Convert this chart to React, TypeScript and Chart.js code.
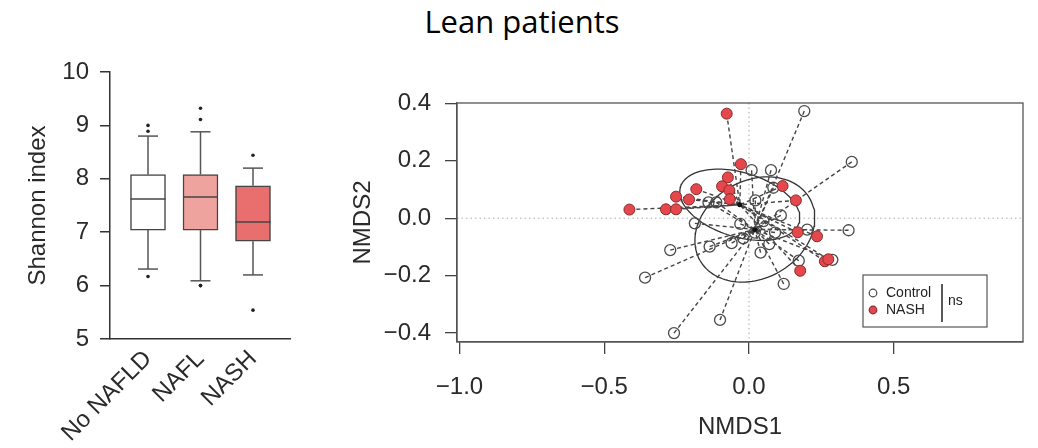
import React, { useEffect, useRef } from 'react';
import { Chart, registerables } from 'chart.js';

Chart.register(...registerables);

const TITLE = 'Lean patients';
const FONT = "'Liberation Sans', Arial, Helvetica, sans-serif";

// ---------- Box plot (Shannon index) ----------
const boxCategories = ['No NAFLD', 'NAFL', 'NASH'];
const boxWhiskerLow = [6.31, 6.09, 6.2];
const boxQ1 = [7.04, 7.04, 6.83];
const boxMedian = [7.62, 7.66, 7.19];
const boxQ3 = [8.08, 8.08, 7.87];
const boxWhiskerHigh = [8.8, 8.88, 8.2];
const boxOutliers = [
  [9.0, 8.89, 6.17],
  [9.32, 9.11, 6.0, 6.0],
  [8.44, 5.54],
];
const boxFill = ['#ffffff', '#eea39f', '#e96e6e'];
const shannonTicks = [5, 6, 7, 8, 9, 10];

// ---------- NMDS ordination ----------
const controlX = [0.191, 0.355, 0.009, 0.076, 0.084, 0.022, 0.201, 0.344, 0.288, 0.172, 0.12, -0.1, -0.06, -0.136, -0.187, -0.272, -0.359, -0.259, -0.14, -0.113, 0.05, 0.09, -0.02, 0.11, 0.04, -0.03, 0.07, 0.02];
const controlY = [0.373, 0.196, 0.167, 0.167, 0.106, 0.062, -0.04, -0.042, -0.145, -0.148, -0.229, -0.354, -0.087, -0.099, -0.018, -0.111, -0.207, -0.4, 0.055, 0.055, -0.01, -0.05, -0.07, 0.01, -0.12, -0.02, -0.09, -0.05];
const nashX = [-0.413, -0.287, -0.252, -0.252, -0.207, -0.182, -0.077, -0.028, -0.073, -0.093, -0.068, -0.066, 0.116, 0.162, 0.168, 0.235, 0.262, 0.274, 0.177];
const nashY = [0.03, 0.031, 0.031, 0.075, 0.065, 0.101, 0.364, 0.188, 0.142, 0.111, 0.097, 0.066, 0.112, 0.062, -0.049, -0.063, -0.15, -0.143, -0.183];
const nmdsXTicks = [-1.0, -0.5, 0.0, 0.5];
const nmdsYTicks = [-0.4, -0.2, 0.0, 0.2, 0.4];
// ellipse: semi-axis a, semi-axis b, rotation in degrees (data space)
const controlEllipse = [0.218, 0.17, 30];
const nashEllipse = [0.214, 0.112, -17];
const legendLabels = ['Control', 'NASH'];
const testLabel = 'ns';

type P = { x: number; y: number };

const toPoints = (xs: number[], ys: number[]): P[] => xs.map((x, i) => ({ x, y: ys[i] }));
const centroid = (pts: P[]): P => ({
  x: pts.reduce((s, p) => s + p.x, 0) / pts.length,
  y: pts.reduce((s, p) => s + p.y, 0) / pts.length,
});
const spider = (pts: P[], c: P): P[] =>
  pts.flatMap((p) => [p, c, { x: NaN, y: NaN }]);
const ellipse = (c: P, e: number[]): P[] => {
  const [a, b, deg] = e;
  const th = (deg * Math.PI) / 180;
  const out: P[] = [];
  for (let k = 0; k <= 120; k++) {
    const t = (k / 120) * Math.PI * 2;
    out.push({
      x: c.x + a * Math.cos(t) * Math.cos(th) - b * Math.sin(t) * Math.sin(th),
      y: c.y + a * Math.cos(t) * Math.sin(th) + b * Math.sin(t) * Math.cos(th),
    });
  }
  return out;
};
const fmt = (v: number) => {
  const r = Math.round(v * 10) / 10;
  if (Math.abs(r) < 1e-9) return '0.0';
  return (r < 0 ? '\u2212' : '') + Math.abs(r).toFixed(1);
};

const boxPlugin = {
  id: 'boxWhiskers',
  afterDatasetsDraw(chart: any) {
    const { ctx, scales } = chart;
    const x = scales.x;
    const y = scales.y;
    ctx.save();
    const line = (x1: number, y1: number, x2: number, y2: number) => {
      ctx.beginPath();
      ctx.moveTo(x1, y1);
      ctx.lineTo(x2, y2);
      ctx.stroke();
    };
    boxCategories.forEach((_, i) => {
      const cx = x.getPixelForValue(i);
      const capHalf = 10;
      const boxHalf = 17.5;
      ctx.strokeStyle = '#555';
      ctx.lineWidth = 1.5;
      line(cx, y.getPixelForValue(boxQ3[i]), cx, y.getPixelForValue(boxWhiskerHigh[i]));
      line(cx, y.getPixelForValue(boxQ1[i]), cx, y.getPixelForValue(boxWhiskerLow[i]));
      line(cx - capHalf, y.getPixelForValue(boxWhiskerHigh[i]), cx + capHalf, y.getPixelForValue(boxWhiskerHigh[i]));
      line(cx - capHalf, y.getPixelForValue(boxWhiskerLow[i]), cx + capHalf, y.getPixelForValue(boxWhiskerLow[i]));
      ctx.strokeStyle = '#444';
      line(cx - boxHalf, y.getPixelForValue(boxMedian[i]), cx + boxHalf, y.getPixelForValue(boxMedian[i]));
    });
    ctx.restore();
  },
};

const nmdsPlugin = {
  id: 'nmdsDecor',
  beforeDatasetsDraw(chart: any) {
    const { ctx, chartArea: ca, scales } = chart;
    ctx.save();
    ctx.strokeStyle = '#aaa';
    ctx.lineWidth = 1;
    ctx.setLineDash([1.5, 3]);
    const x0 = scales.x.getPixelForValue(0);
    const y0 = scales.y.getPixelForValue(0);
    ctx.beginPath();
    ctx.moveTo(x0, ca.top);
    ctx.lineTo(x0, ca.bottom);
    ctx.moveTo(ca.left, y0);
    ctx.lineTo(ca.right, y0);
    ctx.stroke();
    ctx.restore();
  },
  afterDraw(chart: any) {
    const { ctx, chartArea: ca } = chart;
    ctx.save();
    ctx.strokeStyle = '#555';
    ctx.lineWidth = 1.3;
    ctx.strokeRect(ca.left, ca.top, ca.right - ca.left, ca.bottom - ca.top);
    // legend
    const bx = ca.right - 160;
    const bw = 124;
    const bh = 52;
    const by = ca.bottom - 15 - bh;
    ctx.fillStyle = '#fff';
    ctx.fillRect(bx, by, bw, bh);
    ctx.strokeStyle = '#555';
    ctx.lineWidth = 1.2;
    ctx.strokeRect(bx, by, bw, bh);
    const rows = [by + 18, by + 35];
    rows.forEach((ry, i) => {
      ctx.beginPath();
      ctx.arc(bx + 10, ry, 3.8, 0, Math.PI * 2);
      if (i === 1) {
        ctx.fillStyle = '#e4474c';
        ctx.fill();
        ctx.strokeStyle = '#8a2b2b';
      } else {
        ctx.strokeStyle = '#444';
      }
      ctx.lineWidth = 1.2;
      ctx.stroke();
      ctx.fillStyle = '#222';
      ctx.font = `14px ${FONT}`;
      ctx.textBaseline = 'middle';
      ctx.textAlign = 'left';
      ctx.fillText(legendLabels[i], bx + 23, ry);
    });
    ctx.strokeStyle = '#222';
    ctx.lineWidth = 1.5;
    ctx.beginPath();
    ctx.moveTo(bx + 79, by + 9);
    ctx.lineTo(bx + 79, by + 47);
    ctx.stroke();
    ctx.fillStyle = '#222';
    ctx.font = `14px ${FONT}`;
    ctx.textBaseline = 'middle';
    ctx.fillText(testLabel, bx + 85, by + 26);
    ctx.restore();
  },
};

export default function App() {
  const boxRef = useRef<HTMLCanvasElement>(null);
  const nmdsRef = useRef<HTMLCanvasElement>(null);

  useEffect(() => {
    const boxChart = new Chart(boxRef.current as HTMLCanvasElement, {
      type: 'bar',
      data: {
        datasets: [
          {
            type: 'scatter',
            data: boxOutliers.flatMap((arr, i) => arr.map((v) => ({ x: i, y: v }))),
            pointRadius: 1.8,
            backgroundColor: '#222',
            borderWidth: 0,
          } as any,
          {
            type: 'bar',
            data: boxCategories.map((_, i) => ({ x: i, y: [boxQ1[i], boxQ3[i]] })),
            backgroundColor: boxFill,
            borderColor: '#444',
            borderWidth: 1.5,
            borderSkipped: false,
            barThickness: 35,
          } as any,
        ],
      },
      options: {
        animation: false,
        responsive: false,
        events: [],
        layout: { padding: { top: 72, right: 40, bottom: 0, left: 0 } },
        plugins: { legend: { display: false }, tooltip: { enabled: false } },
        scales: {
          x: {
            type: 'linear',
            offset: false,
            min: -0.724,
            max: 2.705,
            afterBuildTicks: (s: any) => {
              s.ticks = boxCategories.map((_, i) => ({ value: i }));
            },
            afterFit: (s: any) => {
              s.height = 109;
            },
            ticks: {
              autoSkip: false,
              minRotation: 45,
              maxRotation: 45,
              padding: 6,
              color: '#2a2a2a',
              font: { family: FONT, size: 24 },
              callback: (_v: any, i: number) => boxCategories[i],
            },
            grid: { display: false, drawTicks: false, offset: false },
            border: { display: true, color: '#333', width: 1.5 },
          },
          y: {
            type: 'linear',
            min: 5,
            max: 10,
            afterBuildTicks: (s: any) => {
              s.ticks = shannonTicks.map((v) => ({ value: v }));
            },
            afterFit: (s: any) => {
              s.width = 110;
            },
            ticks: {
              padding: 11,
              color: '#2a2a2a',
              font: { family: FONT, size: 24 },
              callback: (v: any) => String(v),
            },
            grid: { drawOnChartArea: false, drawTicks: true, tickLength: 10, color: '#333', lineWidth: 1.5 },
            border: { display: true, color: '#333', width: 1.5 },
            title: {
              display: true,
              text: 'Shannon index',
              color: '#2a2a2a',
              font: { family: FONT, size: 24 },
              padding: { top: 23.6, bottom: 0 },
            },
          },
        },
      },
      plugins: [boxPlugin],
    } as any);

    const control = toPoints(controlX, controlY);
    const nash = toPoints(nashX, nashY);
    const cC = centroid(control);
    const cN = centroid(nash);

    const nmdsChart = new Chart(nmdsRef.current as HTMLCanvasElement, {
      type: 'scatter',
      data: {
        datasets: [
          {
            data: nash,
            pointRadius: 5.5,
            backgroundColor: '#e4474c',
            borderColor: '#8a2b2b',
            borderWidth: 1,
          },
          {
            data: control,
            pointRadius: 5.5,
            backgroundColor: 'rgba(255,255,255,0)',
            borderColor: '#4a4a4a',
            borderWidth: 1.3,
          },
          {
            data: [cN, cC],
            pointRadius: 2.5,
            backgroundColor: '#111',
            borderWidth: 0,
          },
          {
            data: spider(nash, cN),
            showLine: true,
            pointRadius: 0,
            borderColor: '#444',
            borderWidth: 1.4,
            borderDash: [4, 3],
            spanGaps: false,
          },
          {
            data: spider(control, cC),
            showLine: true,
            pointRadius: 0,
            borderColor: '#444',
            borderWidth: 1.4,
            borderDash: [4, 3],
            spanGaps: false,
          },
          {
            data: ellipse(cN, nashEllipse),
            showLine: true,
            pointRadius: 0,
            borderColor: '#333',
            borderWidth: 1.3,
          },
          {
            data: ellipse(cC, controlEllipse),
            showLine: true,
            pointRadius: 0,
            borderColor: '#333',
            borderWidth: 1.3,
          },
        ],
      },
      options: {
        animation: false,
        responsive: false,
        events: [],
        layout: { padding: { top: 103, right: 15, bottom: 0, left: 0 } },
        plugins: { legend: { display: false }, tooltip: { enabled: false } },
        scales: {
          x: {
            type: 'linear',
            min: -1.0086,
            max: 0.9465,
            afterBuildTicks: (s: any) => {
              s.ticks = nmdsXTicks.map((v) => ({ value: v }));
            },
            afterFit: (s: any) => {
              s.height = 106;
            },
            ticks: {
              padding: 19,
              color: '#2a2a2a',
              font: { family: FONT, size: 24 },
              callback: (v: any) => fmt(Number(v)),
            },
            grid: { drawOnChartArea: false, drawTicks: true, tickLength: 12, color: '#444', lineWidth: 1.3 },
            border: { display: true, color: '#555', width: 1.3 },
            title: {
              display: true,
              text: 'NMDS1',
              color: '#2a2a2a',
              font: { family: FONT, size: 24 },
              padding: { top: 0, bottom: 6.6 },
            },
          },
          y: {
            type: 'linear',
            min: -0.431,
            max: 0.401,
            afterBuildTicks: (s: any) => {
              s.ticks = nmdsYTicks.map((v) => ({ value: v }));
            },
            afterFit: (s: any) => {
              s.width = 127;
            },
            ticks: {
              padding: 14,
              color: '#2a2a2a',
              font: { family: FONT, size: 24 },
              callback: (v: any) => fmt(Number(v)),
            },
            grid: { drawOnChartArea: false, drawTicks: true, tickLength: 12, color: '#444', lineWidth: 1.3 },
            border: { display: true, color: '#555', width: 1.3 },
            title: {
              display: true,
              text: 'NMDS2',
              color: '#2a2a2a',
              font: { family: FONT, size: 24 },
              padding: { top: 18.6, bottom: 0 },
            },
          },
        },
      },
      plugins: [nmdsPlugin],
    } as any);

    return () => {
      boxChart.destroy();
      nmdsChart.destroy();
    };
  }, []);

  return (
    <div
      style={{
        position: 'absolute',
        left: 0,
        top: 0,
        width: 1038,
        height: 448,
        background: '#fff',
        overflow: 'hidden',
      }}
    >
      <div
        style={{
          position: 'absolute',
          left: 522,
          top: 6,
          transform: 'translateX(-50%)',
          fontFamily: "'Open Sans', sans-serif",
          fontSize: 31,
          lineHeight: '31px',
          color: '#000',
          whiteSpace: 'nowrap',
        }}
      >
        {TITLE}
      </div>
      <canvas
        ref={boxRef}
        width={330}
        height={448}
        style={{ position: 'absolute', left: 0, top: 0, width: 330, height: 448 }}
      />
      <canvas
        ref={nmdsRef}
        width={708}
        height={448}
        style={{ position: 'absolute', left: 330, top: 0, width: 708, height: 448 }}
      />
    </div>
  );
}
